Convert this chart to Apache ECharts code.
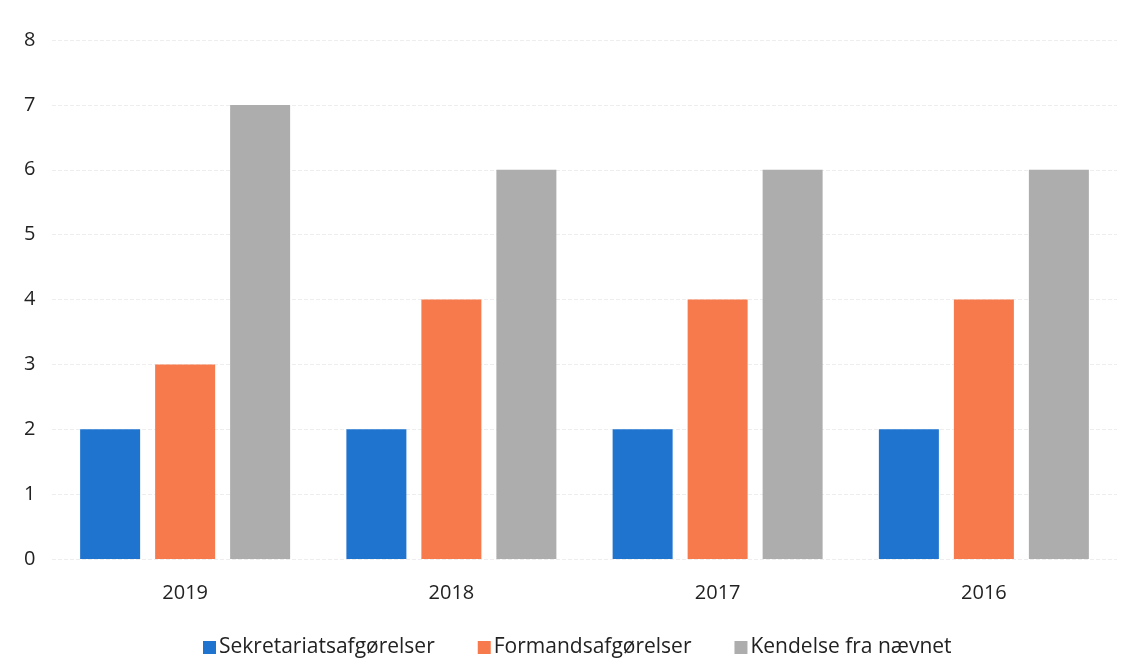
<!DOCTYPE html>
<html><head><meta charset="utf-8">
<script src="https://cdn.jsdelivr.net/npm/echarts@6/dist/echarts.min.js"></script>
<style>html,body{margin:0;padding:0;background:#fff}#c{width:1135px;height:665px}</style>
</head><body><div id="c"></div>
<script>
const categories = ['2019', '2018', '2017', '2016'];
const seriesNames = ['Sekretariatsafgørelser', 'Formandsafgørelser', 'Kendelse fra nævnet'];
const sekretariat = [2, 2, 2, 2];
const formand = [3, 4, 4, 4];
const kendelse = [7, 6, 6, 6];
const yTicks = [0, 1, 2, 3, 4, 5, 6, 7, 8];

const colors = ['#1f74d0', '#f77a4c', '#adadad'];
const values = [sekretariat, formand, kendelse];
const chart = echarts.init(document.getElementById('c'));
chart.setOption({
  animation: false,
  grid: { left: 52, right: 18, top: 40, bottom: 106 },
  xAxis: {
    type: 'category', data: categories,
    axisLine: { show: false }, axisTick: { show: false },
    axisLabel: { fontSize: 20, color: '#222', fontFamily: 'Open Sans', margin: 24 }
  },
  yAxis: {
    type: 'value', min: yTicks[0], max: yTicks[yTicks.length - 1], interval: 1,
    axisLine: { show: false }, axisTick: { show: false },
    axisLabel: { fontSize: 20, color: '#222', fontFamily: 'Open Sans', margin: 28, align: 'left' },
    splitLine: { lineStyle: { color: '#eeeeee', type: 'dashed', width: 1 } }
  },
  legend: {
    bottom: 2, left: 198, itemWidth: 13, itemHeight: 13, itemGap: 43,
    icon: 'rect',
    textStyle: { fontSize: 21, color: '#222', fontFamily: 'Open Sans', padding: [0, 0, 0, -2] },
    data: seriesNames
  },
  series: seriesNames.map((n, i) => ({
    name: n, type: 'bar', data: values[i], barWidth: 60, barGap: '25%',
    itemStyle: { color: colors[i] }
  }))
});
</script></body></html>
